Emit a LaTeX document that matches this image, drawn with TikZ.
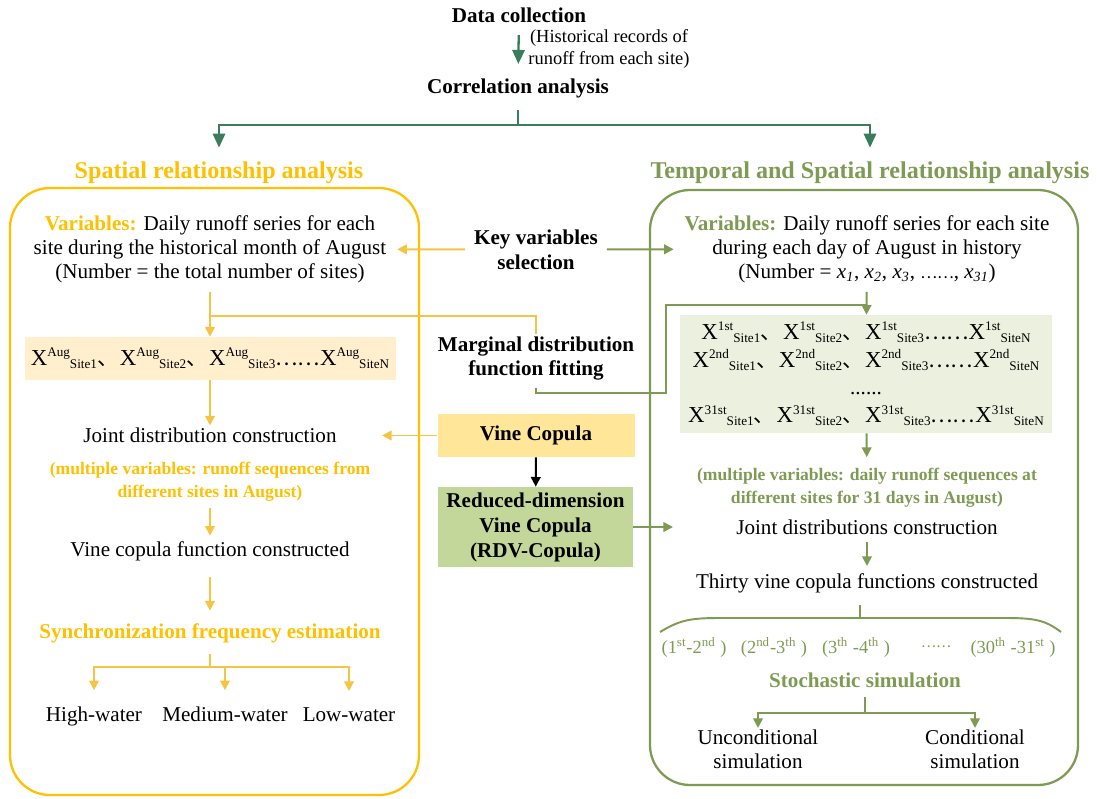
\documentclass[tikz,border=0pt]{standalone}
\usepackage{amsmath}
\usepackage{fontspec}
\setmainfont{Liberation Serif}
\newfontfamily\cjk{Noto Sans CJK SC}
\usetikzlibrary{arrows.meta}
\definecolor{spatgold}{HTML}{FFC000}
\definecolor{goldarrow}{HTML}{F4C444}
\definecolor{tempolive}{HTML}{7E9A53}
\definecolor{topgreen}{HTML}{3A7D5C}
\definecolor{augfill}{HTML}{FFEFCC}
\definecolor{dayfill}{HTML}{EBF1DE}
\definecolor{vinefill}{HTML}{FFE699}
\definecolor{rdvfill}{HTML}{C4D79B}
\newcommand{\sitevar}[2]{{\fontsize{13}{13}\selectfont X}\raisebox{4.8pt}{\fontsize{7.5}{8}\selectfont #1}\raisebox{-1.8pt}{\fontsize{7.5}{8}\selectfont #2}}
\newcommand{\dunhao}{{\cjk 、}\hspace{1pt}}
\newcommand{\sixdots}{{\cjk ……}}
\tikzset{
	txt/.style={font=\fontsize{12}{13.7}\selectfont, align=center, inner sep=1pt},
	head/.style={font=\fontsize{13.7}{16}\selectfont\bfseries, inner sep=1pt},
	bold/.style={font=\fontsize{12}{14.2}\selectfont\bfseries, align=center, inner sep=1pt},
	note/.style={font=\fontsize{10}{13}\selectfont\bfseries, align=center, inner sep=1pt},
	pair/.style={font=\fontsize{10.5}{12}\selectfont, text=tempolive, inner sep=1pt},
	arr/.style={-{Triangle[width=5.5pt,length=5.5pt]}, line width=1.1pt},
	bigarr/.style={-{Triangle[width=7pt,length=8pt]}, line width=1.3pt},
}
\begin{document}
\begin{tikzpicture}[x=2cm,y=-2cm]
	\useasboundingbox (0,0) rectangle (10.97,7.98);
	\node[bold] at (5.19,0.15) (data) {Data collection};
	\node[txt, font=\fontsize{10.5}{12.5}\selectfont] at (6.09,0.49) (hist) {(Historical records of\\runoff from each site)};
	\node[bold] at (5.18,0.88) (corr) {Correlation analysis};
	\draw[bigarr, topgreen, shorten <=6pt, shorten >=7pt] (data) -- (corr);
	\coordinate (split) at (5.18,1.25);
	\draw[topgreen, line width=1.3pt, shorten <=6pt] (corr) -- (split);
	\node[head, text=spatgold] at (2.19,1.73) (spat) {Spatial relationship analysis};
	\node[head, text=tempolive] at (8.70,1.73) (temp) {Temporal and Spatial relationship analysis};
	\draw[bigarr, topgreen, shorten >=7pt] (split) -| (spat);
	\draw[bigarr, topgreen, shorten >=7pt] (split) -| (temp);
	\draw[spatgold, line width=1.3pt, rounded corners=0.8cm] (0.10,1.88) rectangle (4.19,7.95);
	\draw[tempolive, line width=1.3pt, rounded corners=0.8cm] (6.50,1.90) rectangle (10.78,7.85);

	\node[txt] at (2.10,2.49) (lvar) {\textcolor{spatgold}{\bfseries Variables:} Daily runoff series for each\\site during the historical month of August\\(Number = the total number of sites)};
	\node[txt, fill=augfill, minimum width=7.42cm, minimum height=0.86cm] at (2.10,3.585) (laug) {\sitevar{Aug}{Site1}\dunhao\sitevar{Aug}{Site2}\dunhao\sitevar{Aug}{Site3}\sixdots\sitevar{Aug}{SiteN}};
	\node[txt] at (2.10,4.35) (ljoint) {Joint distribution construction};
	\node[note, text=spatgold] at (2.10,4.815) (lmulti) {(multiple variables: runoff sequences from\\different sites in August)};
	\node[txt] at (2.10,5.51) (lvine) {Vine copula function constructed};
	\node[bold, text=spatgold] at (2.10,6.33) (sync) {Synchronization frequency estimation};
	\node[txt, anchor=base] at (0.94,7.21) (high) {High-water};
	\node[txt, anchor=base] at (2.25,7.21) (medium) {Medium-water};
	\node[txt, anchor=base] at (3.49,7.21) (low) {Low-water};
	\coordinate (lmarg) at (2.10,3.16);
	\coordinate (lsplit) at (2.10,6.67);
	\draw[arr, goldarrow, shorten <=4pt] (lvar) -- (laug);
	\draw[arr, goldarrow] (laug) -- (ljoint);
	\draw[arr, goldarrow, shorten <=3pt, shorten >=2pt] (lmulti) -- (lvine);
	\draw[arr, goldarrow, shorten <=8pt, shorten >=6pt] (lvine) -- (sync);
	\draw[goldarrow, line width=1.1pt, shorten <=5pt] (sync) -- (lsplit);
	\draw[arr, goldarrow, shorten >=8pt] (lsplit) -| (high);
	\draw[arr, goldarrow, shorten >=8pt] (lsplit) -| (medium);
	\draw[arr, goldarrow, shorten >=8pt] (lsplit) -| (low);

	\node[bold] at (5.36,2.495) (key) {Key variables\\selection};
	\node[bold] at (5.36,3.585) (marg) {Marginal distribution\\function fitting};
	\node[bold, fill=vinefill, minimum width=3.94cm, minimum height=0.86cm] at (5.36,4.355) (vine) {Vine Copula};
	\node[bold, fill=rdvfill, minimum width=3.9cm, minimum height=1.6cm] at (5.355,5.27) (rdv) {Reduced-dimension\\Vine Copula\\(RDV-Copula)};
	\coordinate (ljointin) at (3.82,4.355);
	\coordinate (rjointin) at (6.73,5.27);
	\draw[arr, goldarrow, shorten <=4pt, shorten >=5pt] (key) -- (lvar);
	\draw[goldarrow, line width=1.1pt] (lmarg) -| (marg);
	\draw[arr, goldarrow] (vine) -- (ljointin);
	\draw[arr, black] (vine) -- (rdv);
	\draw[arr, tempolive] (rdv) -- (rjointin);

	\node[txt] at (8.67,2.49) (rvar) {\textcolor{tempolive}{\bfseries Variables:} Daily runoff series for each site\\during each day of August in history\\(Number = \textit{x\textsubscript{1}}, \textit{x\textsubscript{2}}, \textit{x\textsubscript{3}}, {\cjk\fontsize{9}{9}\selectfont ……}, \textit{x\textsubscript{31}})};
	\draw[arr, tempolive, shorten <=4pt, shorten >=5pt] (key) -- (rvar);
	\node[txt, font=\fontsize{12}{15.8}\selectfont, fill=dayfill, minimum width=7.44cm, minimum height=2.36cm] at (8.66,3.74) (rx) {\sitevar{1st}{Site1}\dunhao\sitevar{1st}{Site2}\dunhao\sitevar{1st}{Site3}\sixdots\sitevar{1st}{SiteN}\\
		\sitevar{2nd}{Site1}\dunhao\sitevar{2nd}{Site2}\dunhao\sitevar{2nd}{Site3}\sixdots\sitevar{2nd}{SiteN}\\
		......\\
		\sitevar{31st}{Site1}\dunhao\sitevar{31st}{Site2}\dunhao\sitevar{31st}{Site3}\sixdots\sitevar{31st}{SiteN}};
	\coordinate (mturn) at (5.36,3.93);
	\coordinate (mup) at (6.66,3.93);
	\coordinate (mtop) at (6.66,3.05);
	\coordinate (rjoin) at (8.67,3.05);
	\draw[tempolive, line width=1.1pt, shorten <=3pt] (marg) -- (mturn) -- (mup) -- (mtop) -- (rjoin);
	\draw[arr, tempolive, shorten <=4pt] (rvar) -- (rx);
	\node[note, text=tempolive] at (8.67,4.875) (rmulti) {(multiple variables: daily runoff sequences at\\different sites for 31 days in August)};
	\node[txt] at (8.67,5.27) (rjoint) {Joint distributions construction};
	\node[txt] at (8.67,5.83) (rthirty) {Thirty vine copula functions constructed};
	\draw[arr, tempolive, shorten >=5pt] (rx) -- (rmulti);
	\draw[arr, tempolive, shorten <=3pt, shorten >=3pt] (rjoint) -- (rthirty);
	\draw[tempolive, line width=1.1pt] (8.60,6.05) -- (8.60,6.18);
	\draw[tempolive, line width=1.1pt] (6.60,6.32) .. controls (6.80,6.20) and (6.90,6.18) .. (7.20,6.18) -- (10.05,6.18) .. controls (10.35,6.18) and (10.45,6.20) .. (10.61,6.32);
	\node[pair] at (6.94,6.47) (p1) {(1\textsuperscript{st}-2\textsuperscript{nd} )};
	\node[pair] at (7.74,6.47) (p2) {(2\textsuperscript{nd}-3\textsuperscript{th} )};
	\node[pair] at (8.56,6.47) (p3) {(3\textsuperscript{th} -4\textsuperscript{th} )};
	\node[pair] at (9.36,6.47) (pdots) {{\cjk\fontsize{8}{8}\selectfont ……}};
	\node[pair] at (10.13,6.47) (p30) {(30\textsuperscript{th} -31\textsuperscript{st} )};
	\node[bold, text=tempolive] at (8.65,6.80) (stoch) {Stochastic simulation};
	\coordinate (rsplit) at (8.65,7.13);
	\node[txt] at (7.58,7.495) (uncond) {Unconditional\\simulation};
	\node[txt] at (9.75,7.495) (cond) {Conditional\\simulation};
	\draw[tempolive, line width=1.1pt, shorten <=4pt] (stoch) -- (rsplit);
	\draw[arr, tempolive] (rsplit) -| (uncond);
	\draw[arr, tempolive] (rsplit) -| (cond);
\end{tikzpicture}
\end{document}
